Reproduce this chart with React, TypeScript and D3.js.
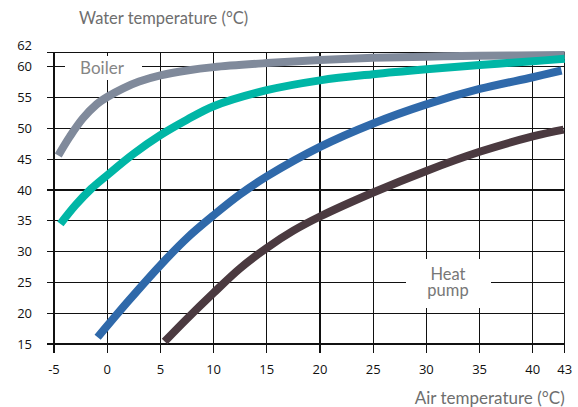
import React from "react";
import * as d3 from "d3";

// air temperature ticks along the bottom
const xTicks = [-5, 0, 5, 10, 15, 20, 25, 30, 35, 40, 43];
const yTicks = [15, 20, 25, 30, 35, 40, 45, 50, 55, 60];
const yTopLabel = "62";

// [air temp, water temp]
const boiler: [number, number][] = [
  [-4.6, 45.6], [-3.5, 48.7], [-2.3, 51.6], [-1, 53.9], [0, 55.1], [1.5, 56.5],
  [3, 57.6], [5, 58.6], [7.5, 59.4], [10, 59.95], [15, 60.6], [20, 61.1],
  [25, 61.45], [30, 61.65], [35, 61.8], [43, 61.9],
];
const lowTemp: [number, number][] = [
  [-4.4, 34.5], [-3, 37.5], [-1.5, 40.2], [0, 42.4], [2.5, 45.9], [5, 48.9],
  [7.5, 51.4], [10, 53.6], [15, 56.2], [20, 57.8], [25, 58.8], [30, 59.6],
  [35, 60.3], [40, 60.9], [43, 61.3],
];
const midTemp: [number, number][] = [
  [-0.9, 16.1], [2, 22.0], [5, 27.8], [7.5, 32.2], [10, 35.9], [12.5, 39.3],
  [15, 42.2], [20, 47.0], [25, 50.8], [30, 53.9], [35, 56.4], [40, 58.3], [42.7, 59.4],
];
const heatPump: [number, number][] = [
  [5.4, 15.4], [7.5, 19.1], [10, 23.3], [12.5, 27.3], [15, 30.6], [17.5, 33.4],
  [20, 35.7], [25, 39.6], [30, 43.1], [35, 46.2], [40, 48.7], [42.9, 49.8],
];

const seriesColors = ["#808a9b", "#00b6a6", "#2f69aa", "#4b3a40"];

export default function App() {
  const width = 578;
  const height = 407;
  const x = d3.scaleLinear().domain([-5, 43]).range([54, 564.7]);
  const y = d3.scaleLinear().domain([15, 60]).range([344, 66.8]);
  const yTop = y(62.3);
  const left = x(-5) - 7;
  const right = x(43);

  const line = d3
    .line<[number, number]>()
    .x((d) => x(d[0]))
    .y((d) => y(d[1]))
    .curve(d3.curveCatmullRom.alpha(0.5));

  const series = [boiler, lowTemp, midTemp, heatPump];
  const tickFont = "'Open Sans', 'Noto Sans', sans-serif";
  const titleFont = "Lato, 'Noto Sans', sans-serif";

  return (
    <svg
      width={width}
      height={height}
      style={{ position: "absolute", left: 0, top: 0, background: "#fff" }}
    >
      {/* grid */}
      <g stroke="#111" strokeWidth={1.3} shapeRendering="crispEdges">
        {yTicks.map((t) => (
          <line key={"h" + t} x1={left} x2={right} y1={y(t)} y2={y(t)} />
        ))}
        <line x1={left} x2={right} y1={yTop} y2={yTop} />
        {xTicks.map((t) => (
          <line key={"v" + t} x1={x(t)} x2={x(t)} y1={yTop} y2={y(15) + 9} />
        ))}
      </g>

      {/* label backgrounds cut the grid */}
      <rect x={65} y={56} width={77} height={24} fill="#fff" />
      <rect x={406} y={259} width={85} height={49} fill="#fff" />

      {/* curves */}
      <g fill="none" strokeWidth={8} strokeLinecap="butt">
        {series.map((s, i) => (
          <path key={i} d={line(s) ?? ""} stroke={seriesColors[i]} />
        ))}
      </g>

      {/* y tick labels */}
      <g fontFamily={tickFont} fontSize={13} fill="#111" textAnchor="end">
        {yTicks.map((t) => (
          <text key={"yl" + t} x={32} y={y(t)} dy="0.35em">
            {t}
          </text>
        ))}
        <text x={32} y={yTop - 7} dy="0.35em">
          {yTopLabel}
        </text>
      </g>

      {/* x tick labels */}
      <g fontFamily={tickFont} fontSize={13} fill="#111" textAnchor="middle">
        {xTicks.map((t) => (
          <text key={"xl" + t} x={x(t)} y={369} dy="0.35em">
            {t}
          </text>
        ))}
      </g>

      {/* titles and series labels */}
      <g fontFamily={titleFont} fill="#6e6e6e">
        <text x={79} y={24} fontSize={16.5}>
          Water temperature (°C)
        </text>
        <text x={right} y={404} fontSize={17} textAnchor="end">
          Air temperature (°C)
        </text>
        <text x={102} y={68} fontSize={17} textAnchor="middle" dy="0.35em" fill="#858585">
          Boiler
        </text>
        <text x={448} y={280} fontSize={16.5} textAnchor="middle" fill="#777">
          Heat
        </text>
        <text x={448} y={296} fontSize={16.5} textAnchor="middle" fill="#777">
          pump
        </text>
      </g>
    </svg>
  );
}
